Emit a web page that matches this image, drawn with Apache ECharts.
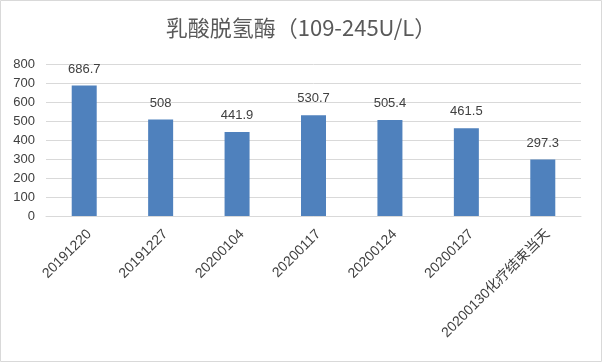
<!DOCTYPE html>
<html><head><meta charset="utf-8">
<script src="https://cdn.jsdelivr.net/npm/echarts@6/dist/echarts.min.js"></script>
<style>html,body{margin:0;padding:0;background:#fff}#c{width:602px;height:362px}</style>
</head><body><div id="c"></div>
<script>
const categories = ['20191220','20191227','20200104','20200117','20200124','20200127','20200130化疗结束当天'];
const values = [686.7, 508, 441.9, 530.7, 505.4, 461.5, 297.3];
const titleText = '乳酸脱氢酶（109-245U/L）';
const chart = echarts.init(document.getElementById('c'));
chart.setOption({
  animation:false,
  graphic:[{type:'rect',shape:{x:0.5,y:0.5,width:601,height:361},style:{fill:'none',stroke:'#d9d9d9',lineWidth:1}}],
  title:{text:titleText,left:'center',top:12,textStyle:{fontSize:22,fontWeight:'normal',color:'#595959',fontFamily:'Noto Sans CJK SC, sans-serif'}},
  grid:{left:46,right:21,top:64,bottom:146},
  xAxis:{type:'category',data:categories,axisTick:{show:false},
    axisLine:{lineStyle:{color:'#d9d9d9'}},
    axisLabel:{rotate:45,color:'#404040',fontSize:14,margin:11,interval:0,verticalAlign:'top',fontFamily:'Liberation Sans, Noto Sans CJK SC, sans-serif'}},
  yAxis:{type:'value',min:0,max:800,interval:100,axisLine:{show:false},axisTick:{show:false},
    splitLine:{lineStyle:{color:'#d9d9d9'}},
    axisLabel:{color:'#404040',fontSize:13,margin:11,fontFamily:'Liberation Sans, sans-serif'}},
  series:[{type:'bar',data:values,barWidth:25,itemStyle:{color:'#4f81bd'},
    label:{show:true,position:'top',distance:10,color:'#404040',fontSize:13,fontFamily:'Liberation Sans, sans-serif'}}]
});
</script></body></html>
